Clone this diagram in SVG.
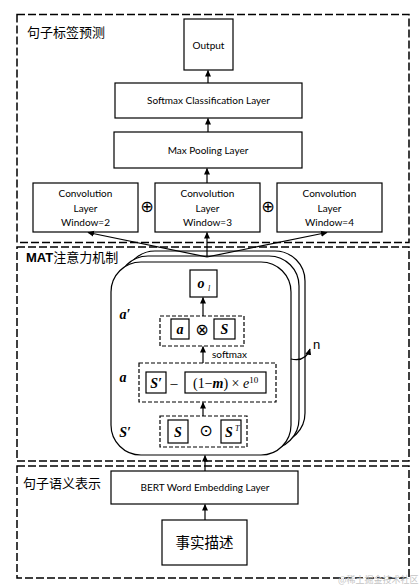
<svg xmlns="http://www.w3.org/2000/svg" width="419" height="587" viewBox="0 0 419 587">
<defs>
<marker id="ah" markerWidth="7" markerHeight="7" refX="6" refY="3.5" orient="auto" markerUnits="userSpaceOnUse">
<path d="M0,0.5 L6.5,3.5 L0,6.5 Z" fill="#000"/>
</marker>
<style>
.sec{fill:none;stroke:#000;stroke-width:1.5;stroke-dasharray:8,3}
.dbox{fill:none;stroke:#000;stroke-width:1.2;stroke-dasharray:4,2}
.box{fill:#fff;stroke:#000;stroke-width:1.2}
.st{fill:#fff;stroke:#000;stroke-width:1.2}
.lbl{font-family:Lato,"Liberation Sans",sans-serif;font-size:10px;fill:#000;text-anchor:middle}
.cjk{font-family:"Noto Sans CJK SC",sans-serif;font-size:13px;fill:#000}
.math{font-family:"Liberation Serif",serif;font-weight:bold;font-style:italic;font-size:14px;fill:#000;text-anchor:middle}
.rom{font-family:"Liberation Serif",serif;font-size:14px;fill:#000}
.sym{font-family:"DejaVu Sans",sans-serif;font-size:16px;fill:#000;text-anchor:middle}
.conn{stroke:#000;stroke-width:1.2;fill:none;marker-end:url(#ah)}
</style>
</defs>
<rect width="419" height="587" fill="#fff"/>

<g id="sec-top">
<rect class="sec" x="17" y="14.5" width="392" height="228"/>
<text class="cjk" x="27" y="37">句子标签预测</text>
</g>
<g id="sec-mat">
<rect class="sec" x="17" y="247" width="392" height="214"/>
<text class="cjk" x="26" y="262"><tspan font-family="Liberation Sans,sans-serif" font-weight="bold">MAT</tspan>注意力机制</text>
</g>
<g id="sec-bottom">
<rect class="sec" x="17" y="466" width="392" height="112"/>
<text class="cjk" x="23" y="488">句子语义表示</text>
</g>

<g id="output">
<rect class="box" x="184" y="19" width="49" height="51"/>
<text class="lbl" x="208.5" y="48.5">Output</text>
</g>
<g id="softmax-layer">
<rect class="box" x="115" y="83" width="187" height="35"/>
<text class="lbl" x="208.5" y="104">Softmax Classification Layer</text>
</g>
<g id="maxpool">
<rect class="box" x="114" y="132" width="188" height="36"/>
<text class="lbl" x="208" y="153.5">Max Pooling Layer</text>
</g>
<g id="conv2">
<rect class="box" x="33" y="183" width="105" height="49"/>
<text class="lbl" x="85.5" y="196.5">Convolution</text>
<text class="lbl" x="85.5" y="211.5">Layer</text>
<text class="lbl" x="85.5" y="226">Window=2</text>
</g>
<g id="conv3">
<rect class="box" x="155" y="183" width="105" height="49"/>
<text class="lbl" x="207.5" y="196.5">Convolution</text>
<text class="lbl" x="207.5" y="211.5">Layer</text>
<text class="lbl" x="207.5" y="226">Window=3</text>
</g>
<g id="conv4">
<rect class="box" x="277" y="183" width="105" height="49"/>
<text class="lbl" x="329.5" y="196.5">Convolution</text>
<text class="lbl" x="329.5" y="211.5">Layer</text>
<text class="lbl" x="329.5" y="226">Window=4</text>
</g>
<g id="oplus">
<text class="sym" x="147" y="211.5">⊕</text>
<text class="sym" x="268" y="211.5">⊕</text>
</g>

<g id="mat-stack">
<rect class="st" x="125" y="251" width="180" height="192" rx="30"/>
<rect class="st" x="118" y="256" width="181" height="193" rx="30"/>
<rect class="st" x="111" y="262" width="180" height="193" rx="30"/>
<text style="font-family:'Liberation Sans',sans-serif;font-size:13px" x="313" y="349">n</text>
</g>

<g id="ol">
<rect class="box" x="190" y="270" width="27" height="27"/>
<text class="math" x="201" y="288">o</text>
<text class="math" style="font-size:8px;font-weight:normal" x="209" y="291">l</text>
</g>

<g id="a-prime">
<text class="math" x="125" y="319">a′</text>
<rect class="dbox" x="160" y="316" width="84" height="30"/>
<rect class="box" x="171" y="319" width="18" height="20"/>
<text class="math" x="180" y="334">a</text>
<text class="sym" x="202" y="334.5">⊗</text>
<rect class="box" x="214" y="319" width="21" height="20"/>
<text class="math" x="224.5" y="334">S</text>
</g>

<g id="a-block">
<text class="math" x="123" y="382">a</text>
<rect class="dbox" x="139" y="363" width="137" height="39"/>
<rect class="box" x="146" y="372" width="20" height="21"/>
<text class="math" x="156" y="387.5">S′</text>
<text class="rom" x="174" y="387.5" text-anchor="middle">–</text>
<rect class="box" x="185" y="372" width="81" height="21"/>
<text class="rom" x="193" y="388">(1−<tspan font-weight="bold" font-style="italic">m</tspan>) × <tspan font-style="italic">e</tspan><tspan font-size="9" dy="-5">10</tspan></text>
</g>

<g id="s-prime">
<text class="math" x="125" y="437">S′</text>
<rect class="dbox" x="160" y="416" width="87" height="31"/>
<rect class="box" x="168" y="420" width="20" height="23"/>
<text class="math" x="178" y="436.5">S</text>
<text class="sym" x="206" y="435.5">⊙</text>
<rect class="box" x="221" y="420" width="20" height="23"/>
<text class="math" x="229" y="436.5">S</text>
<text class="rom" style="font-size:8px;font-style:italic" x="235" y="431">T</text>
</g>

<g id="bert">
<rect class="box" x="111" y="471" width="187" height="33"/>
<text class="lbl" x="205" y="491">BERT Word Embedding Layer</text>
</g>
<g id="facts">
<rect class="box" x="162" y="520" width="85" height="45"/>
<text class="cjk" style="font-size:14.5px" x="204.5" y="548" text-anchor="middle">事实描述</text>
</g>

<g id="connectors">
<line class="conn" x1="208" y1="83" x2="208" y2="70.5"/>
<line class="conn" x1="208" y1="132" x2="208" y2="118.5"/>
<line class="conn" x1="207" y1="183" x2="207" y2="168.5"/>
<line class="conn" x1="207" y1="257" x2="88" y2="232.5"/>
<line class="conn" x1="207" y1="257" x2="207" y2="232.5"/>
<line class="conn" x1="207" y1="257" x2="327" y2="232.5"/>
<line class="conn" x1="203" y1="316" x2="203" y2="297.5"/>
<line class="conn" x1="203" y1="363" x2="203" y2="346.5"/>
<line class="conn" x1="203" y1="416" x2="203" y2="402.5"/>
<line class="conn" x1="205" y1="471" x2="205" y2="455.5"/>
<line class="conn" x1="205" y1="520" x2="205" y2="504.5"/>
<path class="conn" d="M291,359 Q306,362 310,349"/>
<text style="font-family:Lato,'Liberation Sans',sans-serif;font-size:10px" x="212" y="358">softmax</text>
</g>

<text style="font-family:'Noto Sans CJK SC',sans-serif;font-size:9px;fill:#c4c4c4" x="338" y="583">@稀土掘金技术社区</text>
</svg>
